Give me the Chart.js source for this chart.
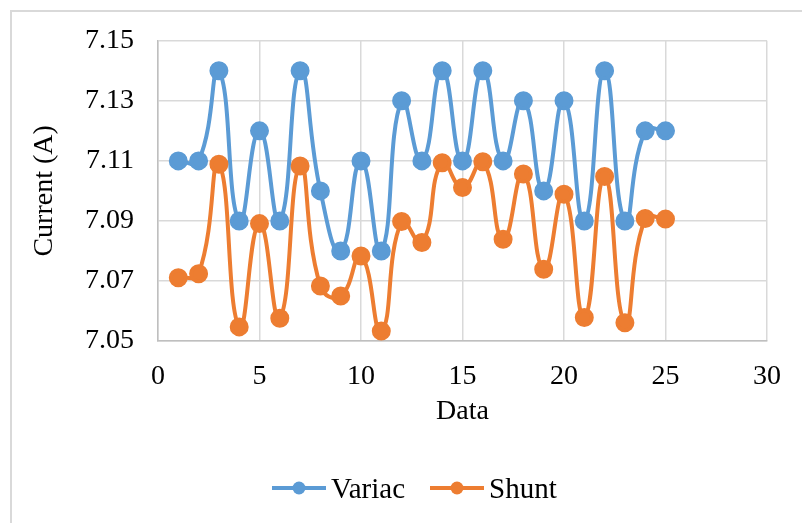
<!DOCTYPE html>
<html lang="en">
<head>
    <meta charset="UTF-8">
    <title>Current</title>
    <style>
        body { margin: 0; background: #fff; }
        #wrap { position: relative; width: 802px; height: 523px; overflow: hidden; }
        #frame { position: absolute; left: 10px; top: 10px; width: 820px; height: 540px; border: 2px solid #d9d9d9; box-sizing: border-box; }
        #legend { position: absolute; left: 271px; top: 471px; display: flex; align-items: center; font-family: 'Liberation Serif', 'Times New Roman', serif; font-size: 29px; color: #000; }
        #legend span { margin-left: 4px; margin-right: 24px; line-height: 34px; }
    </style>
</head>
<body>
<script src="https://cdn.jsdelivr.net/npm/chart.js"></script>
<div id="wrap">
  <div id="frame"></div>
  <canvas id="myChart" width="802" height="523" style="position:absolute;left:0;top:0"></canvas>
  <div id="legend">
    <svg width="56" height="20"><line x1="1" y1="10" x2="55" y2="10" stroke="#5b9bd5" stroke-width="4"/><circle cx="28" cy="10" r="6.5" fill="#5b9bd5"/></svg><span>Variac</span>
    <svg width="56" height="20"><line x1="1" y1="10" x2="55" y2="10" stroke="#ed7d31" stroke-width="4"/><circle cx="28" cy="10" r="6.5" fill="#ed7d31"/></svg><span>Shunt</span>
  </div>
</div>
    <script>
        var dataNo = [1, 2, 3, 4, 5, 6, 7, 8, 9, 10, 11, 12, 13, 14, 15, 16, 17, 18, 19, 20, 21, 22, 23, 24, 25]
        var variac = [7.11, 7.11, 7.14, 7.09, 7.12, 7.09, 7.14, 7.10, 7.08, 7.11, 7.08, 7.13, 7.11,
                      7.14, 7.11, 7.14, 7.11, 7.13, 7.10, 7.13, 7.09, 7.14, 7.09, 7.12, 7.12]
        var shunt = [7.0711, 7.0724, 7.1089, 7.0547, 7.0891, 7.0576, 7.1083, 7.0683, 7.0650, 7.0783, 7.0533, 7.0898, 7.0828,
                     7.1094, 7.1011, 7.1097, 7.0839, 7.1056, 7.0739, 7.0989, 7.0578, 7.1048, 7.0561, 7.0908, 7.0906]
        var yTicks = [7.05, 7.07, 7.09, 7.11, 7.13, 7.15]

        const font = { family: "'Liberation Serif', 'Times New Roman', serif", size: 28 }

        function pts(ys) {
            return dataNo.map((x, i) => ({ x: x, y: ys[i] }))
        }

        const data = {
          datasets: [{
            label: 'Variac',
            data: pts(variac),
            borderColor: '#5b9bd5',
            backgroundColor: '#5b9bd5',
            borderWidth: 4,
            pointRadius: 7.5,
            tension: 0.5,
            order: 1
          }, {
            label: 'Shunt',
            data: pts(shunt),
            borderColor: '#ed7d31',
            backgroundColor: '#ed7d31',
            borderWidth: 4,
            pointRadius: 7.5,
            tension: 0.5,
            order: 0
          }]
        };

        const config = {
          type: 'line',
          data,
          options: {
            responsive: false,
            animation: false,
            layout: { padding: { left: 10, top: 40, right: 35, bottom: 0 } },
            plugins: { legend: { display: false }, tooltip: { enabled: false } },
            scales: {
              x: {
                type: 'linear',
                min: 0, max: 30,
                ticks: { stepSize: 5, color: '#000', font: font, padding: 19, maxRotation: 0 },
                grid: { color: '#d9d9d9', lineWidth: 1.5, drawTicks: false },
                border: { color: '#bfbfbf', width: 1.5 },
                title: { display: true, text: 'Data', color: '#000', font: font, padding: { top: 4, bottom: 95 } },
                afterFit: s => { s.height = 182 }
              },
              y: {
                min: 7.05, max: 7.15,
                afterBuildTicks: s => { s.ticks = yTicks.map(v => ({ value: v })) },
                ticks: { color: '#000', font: font, padding: 24, callback: v => v.toFixed(2) },
                grid: { color: '#d9d9d9', lineWidth: 1.5, drawTicks: false },
                border: { color: '#bfbfbf', width: 1.5 },
                title: { display: true, text: 'Current (A)', color: '#000', font: font, padding: { top: 18, bottom: 0 } },
                afterFit: s => { s.width = 148 }
              }
            }
          }
        };

        var myChart = new Chart(
            document.getElementById('myChart'),
            config
        );
    </script>
</body>
</html>
